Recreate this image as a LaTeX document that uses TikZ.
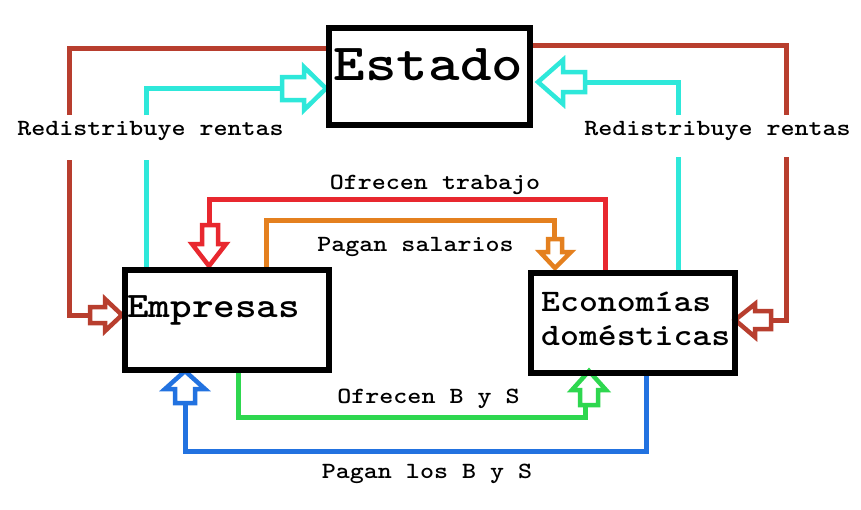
\documentclass[tikz,border=0pt]{standalone}
\usepackage{fontspec}
\definecolor{brownc}{HTML}{B83E2E}
\definecolor{cyanc}{HTML}{2EE8DA}
\definecolor{redc}{HTML}{E8282F}
\definecolor{orangec}{HTML}{E4801F}
\definecolor{greenc}{HTML}{2ED74F}
\definecolor{bluec}{HTML}{2272E0}
\begin{document}
\begin{tikzpicture}[x=1pt,y=-1pt,
  box/.style={draw=black,line width=6pt,inner sep=0pt},
  conn/.style={line width=5pt},
  barrow/.style={line width=4.5pt,fill=white,line join=miter,draw=#1},
  txt/.style={inner sep=0pt,xscale=1.15,font=\ttfamily\bfseries\fontsize{#1}{#1}\selectfont},
  lbl/.style={txt=23.2,anchor=base}]
\useasboundingbox (0,0) rectangle (861,509);
\fill[white] (0,0) rectangle (861,509);

% boxes (positions)
\path (429.5,76.5) node[minimum width=201pt,minimum height=97pt,inner sep=0pt] (est) {};
\path (227,319.75) node[minimum width=204pt,minimum height=99.5pt,inner sep=0pt] (emp) {};
\path (633,322.75) node[minimum width=204pt,minimum height=99.5pt,inner sep=0pt] (eco) {};

% arrow tails
\coordinate (a1tail) at (282,88.5);
\coordinate (a2tail) at (585,82.5);
\coordinate (a3tail) at (90,315);
\coordinate (a4tail) at (771,320);
\coordinate (a5tail) at (209,225);
\coordinate (a6tail) at (554,239);
\coordinate (a7tail) at (585,405);
\coordinate (a8tail) at (185,403);

% connectors
\draw[conn,brownc] (est.west |- 0,48) -| (69.5,115);
\draw[conn,brownc] (69.5,160) |- (a3tail);
\draw[conn,cyanc] (emp.north -| 146,0) -- (146,160);
\draw[conn,cyanc] (146,115) |- (a1tail);
\draw[conn,brownc] (est.east |- 0,45) -| (786.5,115);
\draw[conn,brownc] (786.5,157) |- (a4tail);
\draw[conn,cyanc] (eco.north -| 678,0) -- (678,157);
\draw[conn,cyanc] (678,115) |- (a2tail);
\draw[conn,redc] (eco.north -| 605,0) |- (209,199) -- (a5tail);
\draw[conn,orangec] (emp.north -| 266,0) |- (554,220) -- (a6tail);
\draw[conn,greenc] (emp.south -| 238,0) |- (585,417) -- (a7tail);
\draw[conn,bluec] (eco.south -| 646,0) |- (185,451) -- (a8tail);

% block arrows
\draw[barrow=cyanc] (282,77) -- (304,77) -- (304,67) -- (326,88.5) -- (304,110) -- (304,100) -- (282,100) -- cycle;
\draw[barrow=cyanc] (585,72) -- (563,72) -- (563,60) -- (538,82) -- (563,104) -- (563,92) -- (585,92) -- cycle;
\draw[barrow=brownc] (90,307) -- (105,307) -- (105,299) -- (122,315) -- (105,331) -- (105,323) -- (90,323) -- cycle;
\draw[barrow=brownc] (771,311) -- (755,311) -- (755,304) -- (735,320) -- (755,337) -- (755,329) -- (771,329) -- cycle;
\draw[barrow=redc] (202,225) -- (202,244) -- (192,244) -- (209,266) -- (226,244) -- (218,244) -- (218,225) -- cycle;
\draw[barrow=orangec] (548,239) -- (548,252) -- (540,252) -- (555,268) -- (571,252) -- (562,252) -- (562,239) -- cycle;
\draw[barrow=greenc] (580,405) -- (580,390) -- (572,390) -- (589,371) -- (606,390) -- (598,390) -- (598,405) -- cycle;
\draw[barrow=bluec] (175,403) -- (175,389) -- (165,389) -- (185,371) -- (205,389) -- (195,389) -- (195,403) -- cycle;

% box outlines
\draw[box] (est.north west) rectangle (est.south east);
\draw[box] (emp.north west) rectangle (emp.south east);
\draw[box] (eco.north west) rectangle (eco.south east);

% texts
\node[txt=52.2,anchor=base] (estt) at (428.5,80) {Estado};
\node[txt=35.8,anchor=base west] (empt) at (127,317) {Empresas};
\node[txt=31.3,anchor=base west] (ecot1) at (541,311) {Economías};
\node[txt=31.3,anchor=base west] (ecot2) at (541,345) {domésticas};
\node[lbl] (l1) at (150.5,135) {Redistribuye rentas};
\node[lbl] (l2) at (717.5,135) {Redistribuye rentas};
\node[lbl] (l3) at (435,189) {Ofrecen trabajo};
\node[lbl] (l4) at (415.5,251) {Pagan salarios};
\node[lbl] (l5) at (428.5,403) {Ofrecen B y S};
\node[lbl] (l6) at (427,478) {Pagan los B y S};
\end{tikzpicture}
\end{document}
